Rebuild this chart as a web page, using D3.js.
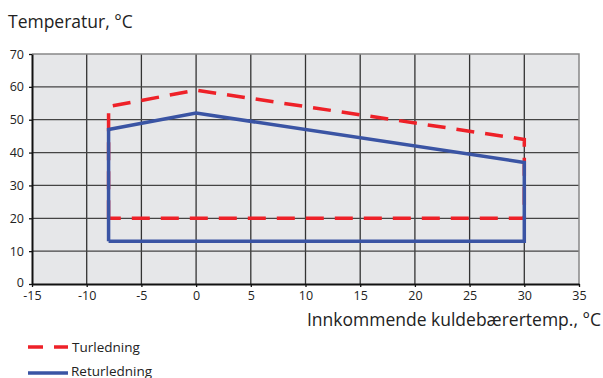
<!DOCTYPE html>
<html>
<head>
<meta charset="utf-8">
<script src="https://d3js.org/d3.v7.min.js"></script>
<style>
  body { margin: 0; background: #fff; }
  text { font-family: "Open Sans", "Noto Sans", sans-serif; fill: #222; }
</style>
</head>
<body>
<svg id="chart" width="603" height="378"></svg>
<script>
// data
const xTicks = [-15, -10, -5, 0, 5, 10, 15, 20, 25, 30, 35];
const yTicks = [0, 10, 20, 30, 40, 50, 60, 70];
const turX = [-8, -8, 0, 30, 30, -8];
const turY = [20, 54, 59, 44, 20, 20];
const retX = [-8, -8, 0, 30, 30, -8];
const retY = [13, 47, 52, 37, 13, 13];
const seriesNames = ["Turledning", "Returledning"];

const svg = d3.select("#chart");

const x = d3.scaleLinear().domain([-15, 35]).range([32, 579]);
const y = d3.scaleLinear().domain([0, 70]).range([284, 54]);

// plot background
svg.append("rect")
  .attr("x", x(-15)).attr("y", y(70))
  .attr("width", x(35) - x(-15)).attr("height", y(0) - y(70))
  .attr("fill", "#e6e7e9");

// grid
svg.append("g")
  .selectAll("line")
  .data(xTicks.slice(1, -1))
  .join("line")
    .attr("x1", d => x(d)).attr("x2", d => x(d))
    .attr("y1", y(70)).attr("y2", y(0))
    .attr("stroke", "#333").attr("stroke-width", 1.3);
svg.append("g")
  .selectAll("line")
  .data(yTicks.slice(1, -1))
  .join("line")
    .attr("x1", x(-15)).attr("x2", x(35))
    .attr("y1", d => y(d)).attr("y2", d => y(d))
    .attr("stroke", "#444").attr("stroke-width", 1.3);

// top and right border
svg.append("path")
  .attr("d", `M${x(-15)},${y(70)}H${x(35)}V${y(0)}`)
  .attr("fill", "none").attr("stroke", "#888").attr("stroke-width", 1.5);

// axes (plain hyphen for negatives, like the original)
const xAxis = svg.append("g")
  .attr("transform", `translate(0,${y(0)})`)
  .call(d3.axisBottom(x).tickValues(xTicks).tickFormat(d => String(d))
    .tickSize(3).tickSizeOuter(0).tickPadding(4));
const yAxis = svg.append("g")
  .attr("transform", `translate(${x(-15)},0)`)
  .call(d3.axisLeft(y).tickValues(yTicks).tickFormat(d => String(d))
    .tickSize(3).tickSizeOuter(0).tickPadding(5));
[xAxis, yAxis].forEach(g => {
  g.select(".domain").attr("stroke", "#111").attr("stroke-width", 2);
  g.selectAll(".tick line").attr("stroke", "#111").attr("stroke-width", 1.3);
  g.selectAll(".tick text").style("font-size", "12.5px").attr("fill", "#222")
    .style("font-family", "'Open Sans', sans-serif");
});
yAxis.select(".tick text").attr("dy", "0.2em");

// lines
const line = d3.line().x(d => x(d[0])).y(d => y(d[1]));
const turData = turX.map((v, i) => [v, turY[i]]);
const retData = retX.map((v, i) => [v, retY[i]]);

svg.append("path")
  .datum(turData)
  .attr("d", line)
  .attr("fill", "none")
  .attr("stroke", "#ee2128")
  .attr("stroke-width", 3.5)
  .attr("stroke-dasharray", "18,11");
svg.append("path")
  .datum(retData)
  .attr("d", line)
  .attr("fill", "none")
  .attr("stroke", "#3a54a4")
  .attr("stroke-width", 3.5);

// titles
svg.append("text")
  .attr("x", 8).attr("y", 28)
  .style("font-size", "17.5px")
  .text("Temperatur, °C");
svg.append("text")
  .attr("x", 601).attr("y", 326)
  .attr("text-anchor", "end")
  .style("font-size", "17.5px")
  .text("Innkommende kuldebærertemp., °C");

// legend
const legend = svg.append("g");
legend.append("line")
  .attr("x1", 28).attr("x2", 68).attr("y1", 347).attr("y2", 347)
  .attr("stroke", "#ee2128").attr("stroke-width", 3.5)
  .attr("stroke-dasharray", "15,11");
legend.append("text")
  .attr("x", 72).attr("y", 352)
  .style("font-size", "13.5px")
  .text(seriesNames[0]);
legend.append("line")
  .attr("x1", 28).attr("x2", 68).attr("y1", 373).attr("y2", 373)
  .attr("stroke", "#3a54a4").attr("stroke-width", 3.5);
legend.append("text")
  .attr("x", 71).attr("y", 376)
  .style("font-size", "13.5px")
  .text(seriesNames[1]);
</script>
</body>
</html>
